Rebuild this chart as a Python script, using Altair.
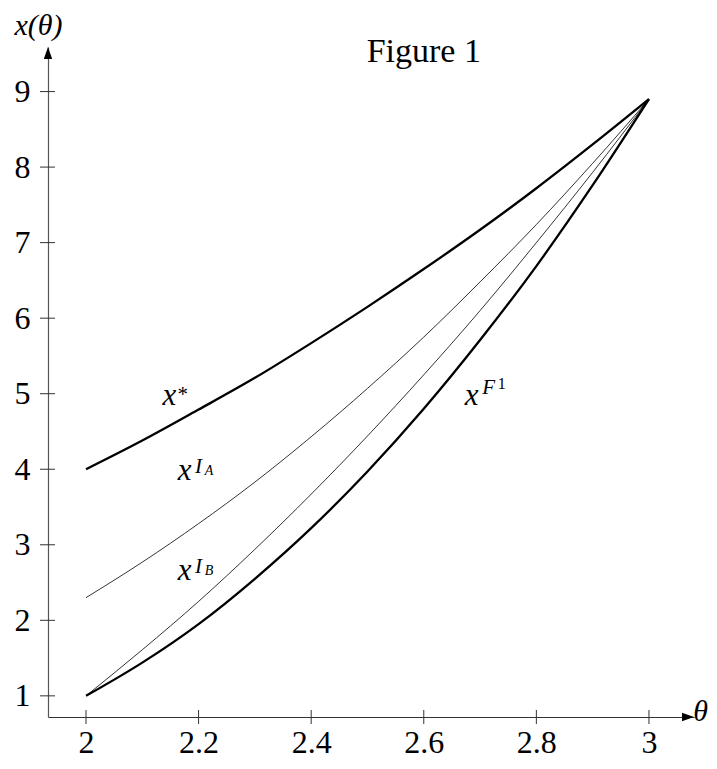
import altair as alt
import pandas as pd

# ---- data ----
theta = [2.0, 2.1, 2.2, 2.3, 2.4, 2.5, 2.6, 2.7, 2.8, 2.9, 3.0]
x_star = [4.00, 4.38, 4.79, 5.21, 5.67, 6.15, 6.65, 7.17, 7.72, 8.30, 8.90]
x_IA = [2.30, 2.77, 3.28, 3.83, 4.43, 5.07, 5.75, 6.48, 7.24, 8.05, 8.90]
x_IB = [1.00, 1.61, 2.25, 2.94, 3.67, 4.44, 5.25, 6.10, 7.00, 7.93, 8.90]
x_F1 = [1.00, 1.44, 1.95, 2.55, 3.22, 3.97, 4.80, 5.71, 6.69, 7.76, 8.90]

series_names = ["x*", "xIA", "xIB", "xF1"]
thick_series = ["x*", "xF1"]
thin_series = ["xIA", "xIB"]
x_ticks = [2.0, 2.2, 2.4, 2.6, 2.8, 3.0]
y_ticks = [1, 2, 3, 4, 5, 6, 7, 8, 9]

label_theta = [2.148, 2.175, 2.175, 2.685]
label_val = [4.85, 3.86, 2.53, 4.85]

FONT = "Liberation Serif"
W, H = 646, 670

rows = []
for name, vals in zip(series_names, [x_star, x_IA, x_IB, x_F1]):
    for t, v in zip(theta, vals):
        rows.append({"theta": t, "value": v, "series": name})
df = pd.DataFrame(rows)

xs = alt.Scale(domain=[1.9325, 3.080], nice=False, zero=False)
ys = alt.Scale(domain=[0.72, 9.59], nice=False, zero=False)

xaxis = alt.Axis(values=x_ticks, format="~g", ticks=False, grid=False,
                 domainColor="#333", domainWidth=1.2,
                 labelFont=FONT, labelFontSize=32, labelColor="black",
                 labelPadding=10,
                 title="θ", titleFont=FONT, titleFontStyle="italic",
                 titleFontWeight="normal", titleFontSize=30,
                 titleX=652, titleY=-6, titleAlign="center",
                 titleBaseline="middle", titleColor="black")
yaxis = alt.Axis(values=y_ticks, format="d", ticks=False, grid=False,
                 domainColor="#555", domainWidth=1.2,
                 labelFont=FONT, labelFontSize=32, labelColor="black",
                 labelPadding=18,
                 title="x(θ)", titleFont=FONT, titleFontStyle="italic",
                 titleFontWeight="normal", titleFontSize=30,
                 titleAngle=0, titleX=-10, titleY=-22,
                 titleAlign="center", titleBaseline="middle",
                 titleColor="black")


def X(field):
    return alt.X(field, scale=xs, axis=xaxis)


def Y(field):
    return alt.Y(field, scale=ys, axis=yaxis)


def curve_layer(names, width):
    return alt.Chart(df).transform_filter(
        alt.FieldOneOfPredicate(field="series", oneOf=names)
    ).mark_line(interpolate="monotone", color="black", strokeWidth=width).encode(
        x=X("theta:Q"), y=Y("value:Q"), detail="series:N")


thick = curve_layer(thick_series, 2.3)
thin = curve_layer(thin_series, 0.8)

ytick_df = pd.DataFrame({"value": y_ticks})
xtick_df = pd.DataFrame({"theta": x_ticks})

yt = alt.Chart(ytick_df).mark_rule(color="#333", strokeWidth=1).encode(
    y=Y("value:Q"), x=alt.value(-8), x2=alt.value(7))
xt = alt.Chart(xtick_df).mark_rule(color="#333", strokeWidth=1).encode(
    x=X("theta:Q"), y=alt.value(H - 7), y2=alt.value(H + 7))

arrow_up = alt.Chart(pd.DataFrame({"a": [0]})).mark_point(
    shape="M0,-1L0.7,1L-0.7,1Z", filled=True, color="black", opacity=1,
    size=144).encode(x=alt.value(0), y=alt.value(6))
arrow_right = alt.Chart(pd.DataFrame({"a": [0]})).mark_point(
    shape="M1,0L-1,-0.7L-1,0.7Z", filled=True, color="black", opacity=1,
    size=144).encode(x=alt.value(W - 6), y=alt.value(H))

lab_df = pd.DataFrame({"theta": label_theta, "value": label_val, "s": series_names})


def txt(sel, text, size, dx=0, dy=0, italic=True):
    d = lab_df[lab_df["s"].isin(sel)]
    return alt.Chart(d).mark_text(
        text=text, font=FONT, fontSize=size,
        fontStyle="italic" if italic else "normal",
        align="center", baseline="alphabetic", dx=dx, dy=dy, color="black"
    ).encode(x=X("theta:Q"), y=Y("value:Q"))


labels = [
    txt(series_names, "x", 31),
    txt(["x*"], "*", 21, dx=13.5, dy=-4, italic=False),
    txt(["xIA", "xIB"], "I", 21, dx=14, dy=-7),
    txt(["xIA"], "A", 14, dx=24.5, dy=-5),
    txt(["xIB"], "B", 14, dx=24.5, dy=-5),
    txt(["xF1"], "F", 21, dx=17, dy=-11),
    txt(["xF1"], "1", 16, dx=30, dy=-16, italic=False),
]

title_df = pd.DataFrame({"theta": [2.60], "value": [9.53], "txt": ["Figure 1"]})
title = alt.Chart(title_df).mark_text(
    font=FONT, fontSize=34, align="center", baseline="middle", color="black"
).encode(x=X("theta:Q"), y=Y("value:Q"), text="txt:N")

chart = alt.layer(thick, thin, yt, xt, arrow_up, arrow_right, *labels, title).properties(
    width=W, height=H,
    autosize=alt.AutoSizeParams(type="none"),
    padding={"left": 40, "top": 39, "right": 15, "bottom": 44},
).configure_view(stroke=None)

chart.save("out.html", embed_options={"renderer": "svg", "actions": False})
